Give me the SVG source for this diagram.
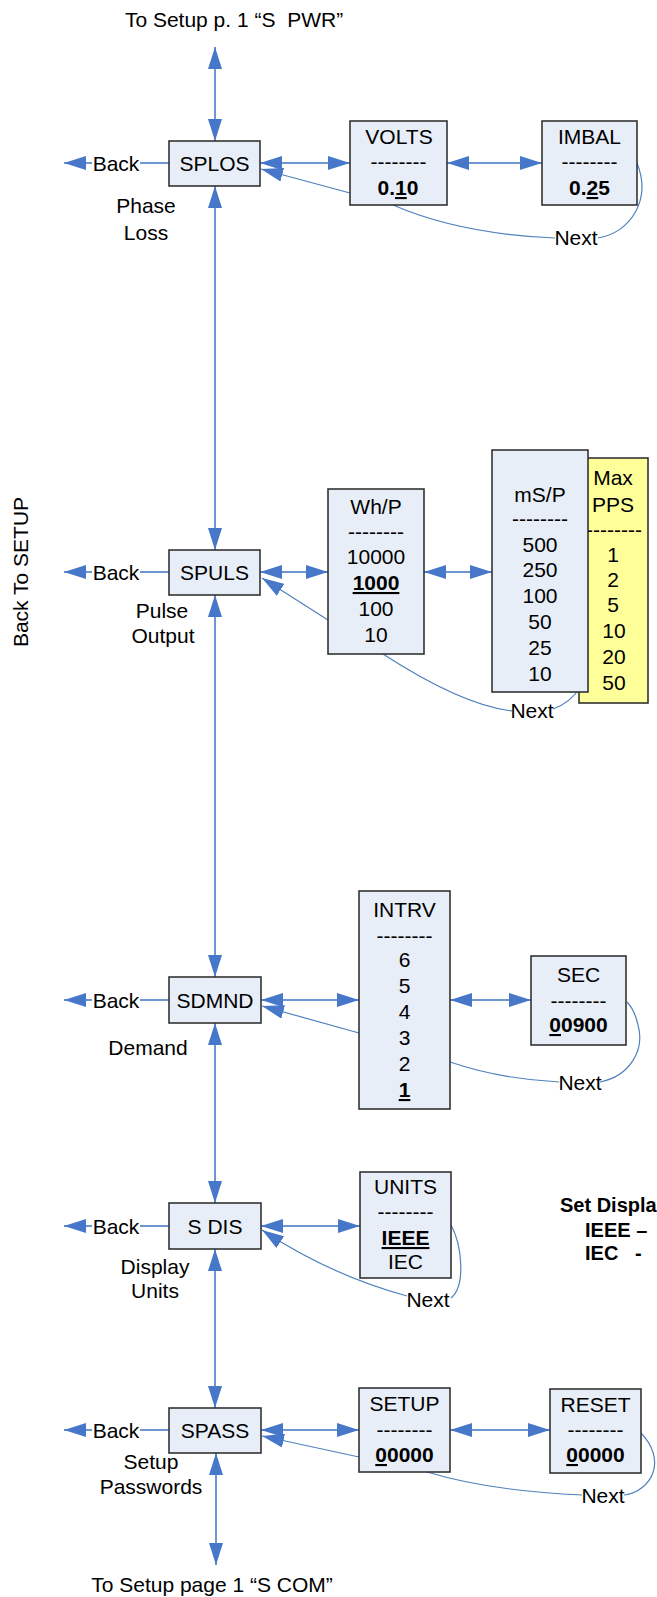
<svg xmlns="http://www.w3.org/2000/svg" width="657" height="1597" viewBox="0 0 657 1597">
<defs>
<style>
text{font-family:"Liberation Sans",Arial,sans-serif;font-size:21px;fill:#000;}
.c{text-anchor:middle;}
.b{font-weight:bold;}
.s{font-size:20px;}
.u{text-decoration:underline;}
.box{fill:#E8EEF8;stroke:#333;stroke-width:1.6;}
.ybox{fill:#FFFF99;stroke:#333;stroke-width:1.6;}
.ln{fill:none;stroke:#6F96D1;stroke-width:2;}
.cv{fill:none;stroke:#4F81BD;stroke-width:1.2;}
.bg{fill:#fff;}
</style>
<marker id="ah" viewBox="0 0 22 14" refX="22" refY="7" markerWidth="22" markerHeight="14" markerUnits="userSpaceOnUse" orient="auto-start-reverse"><path d="M0,0 L22,7 L0,14 z" fill="#4677C8"/></marker>
</defs>
<rect width="657" height="1597" fill="#fff"/>

<g id="connectors">
<path class="ln" d="M215,47 L215,141" marker-start="url(#ah)" marker-end="url(#ah)"/>
<path class="ln" d="M215,186 L215,550" marker-start="url(#ah)" marker-end="url(#ah)"/>
<path class="ln" d="M215,595 L215,977" marker-start="url(#ah)" marker-end="url(#ah)"/>
<path class="ln" d="M215,1023 L215,1203" marker-start="url(#ah)" marker-end="url(#ah)"/>
<path class="ln" d="M215,1249 L215,1408" marker-start="url(#ah)" marker-end="url(#ah)"/>
<path class="ln" d="M216,1453 L216,1565" marker-start="url(#ah)" marker-end="url(#ah)"/>
<path class="ln" d="M169,163 L64,163" marker-end="url(#ah)"/>
<path class="ln" d="M169,572 L64,572" marker-end="url(#ah)"/>
<path class="ln" d="M169,1000 L64,1000" marker-end="url(#ah)"/>
<path class="ln" d="M169,1226 L64,1226" marker-end="url(#ah)"/>
<path class="ln" d="M169,1430 L64,1430" marker-end="url(#ah)"/>
<path class="ln" d="M260,163 L350,163" marker-start="url(#ah)" marker-end="url(#ah)"/>
<path class="ln" d="M447,163 L542,163" marker-start="url(#ah)" marker-end="url(#ah)"/>
<path class="ln" d="M260,572 L328,572" marker-start="url(#ah)" marker-end="url(#ah)"/>
<path class="ln" d="M424,572 L492,572" marker-start="url(#ah)" marker-end="url(#ah)"/>
<path class="ln" d="M261,1000 L359,1000" marker-start="url(#ah)" marker-end="url(#ah)"/>
<path class="ln" d="M450,1000 L531,1000" marker-start="url(#ah)" marker-end="url(#ah)"/>
<path class="ln" d="M261,1226 L360,1226" marker-start="url(#ah)" marker-end="url(#ah)"/>
<path class="ln" d="M261,1430 L359,1430" marker-start="url(#ah)" marker-end="url(#ah)"/>
<path class="ln" d="M450,1430 L550,1430" marker-start="url(#ah)" marker-end="url(#ah)"/>
<path class="cv" d="M350,193 L261,169" marker-end="url(#ah)"/>
<path class="cv" d="M328,620 L262,578" marker-end="url(#ah)"/>
<path class="cv" d="M359,1033 L262,1006" marker-end="url(#ah)"/>
<path class="cv" d="M407,1296 Q330,1275 262,1230" marker-end="url(#ah)"/>
<path class="cv" d="M359,1457 L262,1436" marker-end="url(#ah)"/>
<path class="cv" d="M393,205 Q460,234 555,238"/>
<path class="cv" d="M598,238 C630,233 652,200 637,163"/>
<path class="cv" d="M383,654 C420,678 470,706 512,711"/>
<path class="cv" d="M553,709 C575,701 592,680 593,640 C594,610 592,585 588,570"/>
<path class="cv" d="M450,1062 Q500,1079 559,1082"/>
<path class="cv" d="M600,1082 C630,1076 645,1050 638,1025 C635,1012 630,1005 627,1002"/>
<path class="cv" d="M451,1225 C462,1245 466,1286 451,1298"/>
<path class="cv" d="M427,1472 Q490,1491 582,1495"/>
<path class="cv" d="M624,1495 C652,1491 668,1460 640,1432"/>
</g>

<g id="labels">
<text x="234" y="27" class="c" xml:space="preserve">To Setup p. 1 “S  PWR”</text>
<text x="212" y="1592" class="c">To Setup page 1 “S COM”</text>
<text transform="translate(28,572) rotate(-90)" class="c" xml:space="preserve">Back To SETUP</text>
<rect class="bg" x="92" y="152" width="48" height="22"/><text x="116" y="170.5" class="c">Back</text>
<rect class="bg" x="92" y="561" width="48" height="22"/><text x="116" y="579.5" class="c">Back</text>
<rect class="bg" x="92" y="989" width="48" height="22"/><text x="116" y="1007.5" class="c">Back</text>
<rect class="bg" x="92" y="1215" width="48" height="22"/><text x="116" y="1233.5" class="c">Back</text>
<rect class="bg" x="92" y="1419" width="48" height="22"/><text x="116" y="1437.5" class="c">Back</text>
<text x="146" y="213" class="c">Phase</text>
<text x="146" y="240" class="c">Loss</text>
<text x="162" y="618" class="c">Pulse</text>
<text x="163" y="643" class="c">Output</text>
<text x="148" y="1055" class="c">Demand</text>
<text x="155" y="1274" class="c">Display</text>
<text x="155" y="1298" class="c">Units</text>
<text x="151" y="1469" class="c">Setup</text>
<text x="151" y="1494" class="c">Passwords</text>
<text x="576" y="245" class="c">Next</text>
<text x="532" y="718" class="c">Next</text>
<text x="580" y="1090" class="c">Next</text>
<text x="428" y="1307" class="c">Next</text>
<text x="603" y="1503" class="c">Next</text>
<text x="560" y="1212" class="b s">Set Displa</text>
<text x="585" y="1237" class="b s">IEEE –</text>
<text x="585" y="1260" class="b s" xml:space="preserve">IEC   -</text>
</g>

<g id="SPLOS"><rect class="box" x="169" y="141" width="91" height="45"/><text x="214.5" y="171" class="c">SPLOS</text></g>
<g id="SPULS"><rect class="box" x="169" y="550" width="91" height="45"/><text x="214.5" y="580" class="c">SPULS</text></g>
<g id="SDMND"><rect class="box" x="169" y="977" width="92" height="46"/><text x="215" y="1007.5" class="c">SDMND</text></g>
<g id="SDIS"><rect class="box" x="169" y="1203" width="92" height="46"/><text x="215" y="1233.5" class="c">S DIS</text></g>
<g id="SPASS"><rect class="box" x="169" y="1408" width="92" height="45"/><text x="215" y="1438" class="c">SPASS</text></g>

<g id="VOLTS"><rect class="box" x="350" y="121" width="97" height="84"/>
<text x="399" y="144" class="c">VOLTS</text><text x="398.5" y="169" class="c">--------</text>
<text x="398" y="195" class="c b">0.<tspan class="u">1</tspan>0</text></g>
<g id="IMBAL"><rect class="box" x="542" y="121" width="95" height="84"/>
<text x="589.5" y="144" class="c">IMBAL</text><text x="589.5" y="169" class="c">--------</text>
<text x="589.5" y="195" class="c b">0.<tspan class="u">2</tspan>5</text></g>

<g id="WhP"><rect class="box" x="328" y="489" width="96" height="165"/>
<text x="376" y="514" class="c">Wh/P</text><text x="376" y="539" class="c">--------</text>
<text x="376" y="564" class="c">10000</text>
<text x="376" y="590" class="c b u">1000</text>
<text x="376" y="616" class="c">100</text>
<text x="376" y="642" class="c">10</text></g>

<g id="MaxPPS"><rect class="ybox" x="579" y="458" width="69" height="245"/>
<text x="613" y="485" class="c">Max</text><text x="613" y="512" class="c">PPS</text>
<text x="614" y="537" class="c">--------</text>
<text x="613" y="562" class="c">1</text><text x="613" y="587" class="c">2</text><text x="613" y="612" class="c">5</text>
<text x="614" y="638" class="c">10</text><text x="614" y="664" class="c">20</text><text x="614" y="690" class="c">50</text></g>

<g id="mSP"><rect class="box" x="492" y="450" width="96" height="242"/>
<text x="540" y="502" class="c">mS/P</text><text x="540" y="526" class="c">--------</text>
<text x="540" y="552" class="c">500</text><text x="540" y="577" class="c">250</text>
<text x="540" y="603" class="c">100</text><text x="540" y="629" class="c">50</text>
<text x="540" y="655" class="c">25</text><text x="540" y="681" class="c">10</text></g>

<g id="INTRV"><rect class="box" x="359" y="891" width="91" height="218"/>
<text x="404.5" y="917" class="c">INTRV</text><text x="404.5" y="943" class="c">--------</text>
<text x="404.5" y="967" class="c">6</text><text x="404.5" y="993" class="c">5</text>
<text x="404.5" y="1019" class="c">4</text><text x="404.5" y="1045" class="c">3</text>
<text x="404.5" y="1071" class="c">2</text><text x="404.5" y="1097" class="c b u">1</text></g>

<g id="SEC"><rect class="box" x="531" y="956" width="95" height="89"/>
<text x="578.5" y="982" class="c">SEC</text><text x="578.5" y="1008" class="c">--------</text>
<text x="578.5" y="1032" class="c b"><tspan class="u">0</tspan>0900</text></g>

<g id="UNITS"><rect class="box" x="360" y="1172" width="91" height="106"/>
<text x="405.5" y="1194" class="c">UNITS</text><text x="405.5" y="1219" class="c">--------</text>
<text x="405.5" y="1245" class="c b u">IEEE</text>
<text x="405.5" y="1269" class="c">IEC</text></g>

<g id="SETUP"><rect class="box" x="359" y="1388" width="91" height="84"/>
<text x="404.5" y="1411" class="c">SETUP</text><text x="404.5" y="1437" class="c">--------</text>
<text x="404.5" y="1462" class="c b"><tspan class="u">0</tspan>0000</text></g>

<g id="RESET"><rect class="box" x="550" y="1389" width="91" height="84"/>
<text x="595.5" y="1412" class="c">RESET</text><text x="595.5" y="1437" class="c">--------</text>
<text x="595.5" y="1462" class="c b"><tspan class="u">0</tspan>0000</text></g>
</svg>
